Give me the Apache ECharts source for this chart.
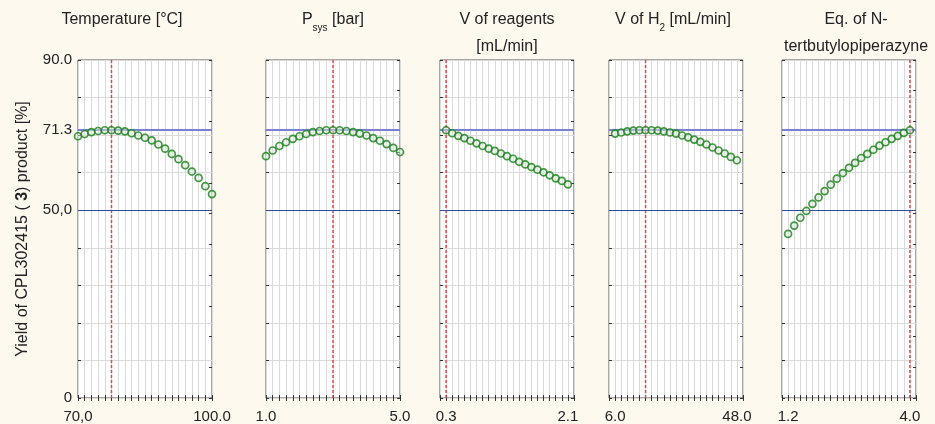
<!DOCTYPE html>
<html><head><meta charset="utf-8">
<script src="https://cdn.jsdelivr.net/npm/echarts@6/dist/echarts.min.js"></script>
<style>html,body{margin:0;padding:0;background:#fdf9ee}#c{width:935px;height:424px}</style>
</head><body><div id="c"></div>
<script>
// ---- data ----
const tempX = [70,71.5,73,74.5,76,77.5,79,80.5,82,83.5,85,86.5,88,89.5,91,92.5,94,95.5,97,98.5,100];
const tempY = [69.7,70.3,70.8,71.1,71.3,71.3,71.2,71.0,70.5,69.9,69.3,68.6,67.5,66.4,65.0,63.6,62.0,60.3,58.6,56.4,54.3];
const psysX = [1.0,1.2,1.4,1.6,1.8,2.0,2.2,2.4,2.6,2.8,3.0,3.2,3.4,3.6,3.8,4.0,4.2,4.4,4.6,4.8,5.0];
const psysY = [64.4,65.9,67.1,68.1,69.0,69.7,70.3,70.8,71.1,71.3,71.3,71.3,71.1,70.8,70.4,69.9,69.2,68.5,67.6,66.6,65.5];
const reagX = [0.3,0.39,0.48,0.57,0.66,0.75,0.84,0.93,1.02,1.11,1.2,1.29,1.38,1.47,1.56,1.65,1.74,1.83,1.92,2.01,2.1];
const reagY = [71.3,70.5,69.8,69.2,68.5,67.8,67.1,66.4,65.8,65.1,64.4,63.7,62.9,62.2,61.5,60.8,60.1,59.3,58.5,57.8,56.9];
const h2X = [6,8.1,10.2,12.3,14.4,16.5,18.6,20.7,22.8,24.9,27,29.1,31.2,33.3,35.4,37.5,39.6,41.7,43.8,45.9,48];
const h2Y = [70.4,70.7,71.0,71.2,71.3,71.3,71.3,71.2,71.0,70.7,70.4,69.9,69.4,68.8,68.2,67.5,66.7,65.9,65.1,64.2,63.3];
const eqX = [1.2,1.34,1.48,1.62,1.76,1.9,2.04,2.18,2.32,2.46,2.6,2.74,2.88,3.02,3.16,3.3,3.44,3.58,3.72,3.86,4.0];
const eqY = [43.7,45.9,48.0,49.8,51.7,53.4,55.1,56.8,58.4,59.9,61.3,62.6,63.9,65.0,66.1,67.2,68.1,69.0,69.8,70.6,71.3];

const panelTitles = ['Temperature [°C]', 'P{s|sys} [bar]', 'V of reagents\n[mL/min]', 'V of H{s|2} [mL/min]', 'Eq. of N-\ntertbutylopiperazyne'];
const xTickLabels = [['70,0','100.0'], ['1.0','5.0'], ['0.3','2.1'], ['6.0','48.0'], ['1.2','4.0']];
const optimumX = [77.5, 3.0, 0.3, 16.5, 4.0];
const yTickValues = [0, 50, 71.3, 90];
const yTickLabels = ['0', '50,0', '71.3', '90.0'];
const predictedYield = 71.3;
const referenceYield = 50;
const yTitle = 'Yield of CPL302415 ( {b|3}) product [%]';

// ---- layout ----
const xs = [tempX, psysX, reagX, h2X, eqX];
const ys = [tempY, psysY, reagY, h2Y, eqY];
const padded = [false, false, true, true, true];
const gridLeft = [78, 266, 440, 609, 782];
const gridW = 134, gridTop = 60, gridH = 338;
const titleCenter = [122, 333, 507, 673, 856];
const FONT = '"Liberation Sans", Arial, sans-serif';

const grids = [], xAxes = [], yAxes = [], series = [], titles = [];
for (let i = 0; i < 5; i++) {
  const X = xs[i], Y = ys[i];
  const step = +(X[1] - X[0]).toFixed(4);
  const mn = padded[i] ? +(X[0] - step).toFixed(4) : X[0];
  const mx = padded[i] ? +(X[X.length-1] + step).toFixed(4) : X[X.length-1];
  grids.push({left: gridLeft[i], top: gridTop, width: gridW, height: gridH, show: true,
    backgroundColor: '#ffffff', borderColor: '#555', borderWidth: 1, containLabel: false});
  const lbl = xTickLabels[i];
  xAxes.push({type: 'value', gridIndex: i, position: 'bottom', min: mn, max: mx, interval: step,
    axisLine: {show: false},
    axisTick: {show: true, inside: true, length: 3, lineStyle: {color: '#333'}},
    splitLine: {show: true, lineStyle: {color: '#dadada', width: 1}},
    axisLabel: {show: true, customValues: [X[0], X[X.length-1]], margin: 11,
      formatter: v => (Math.abs(v - X[0]) < 1e-6 ? lbl[0] : lbl[1]),
      color: '#222', fontSize: 15, fontFamily: FONT}
  });
  xAxes.push({type: 'value', gridIndex: i, position: 'top', min: mn, max: mx, interval: step,
    axisLine: {show: false}, axisLabel: {show: false}, splitLine: {show: false},
    axisTick: {show: true, inside: true, length: 3, lineStyle: {color: '#333'}}
  });
  const yLeft = {type: 'value', gridIndex: i, position: 'left', min: 0, max: 90, interval: 10,
    axisLine: {show: false},
    axisTick: {show: true, inside: true, length: 3, lineStyle: {color: '#333'}},
    splitLine: {show: true, lineStyle: {color: '#dadada', width: 1}},
    axisLabel: {show: i === 0, customValues: yTickValues, margin: 6,
      formatter: v => yTickLabels[yTickValues.findIndex(t => Math.abs(t - v) < 1e-6)],
      color: '#222', fontSize: 15, fontFamily: FONT}
  };
  if (i === 0) {
    Object.assign(yLeft, {name: yTitle, nameLocation: 'middle', nameRotate: 90, nameGap: 47,
      nameTextStyle: {color: '#222', fontSize: 16, fontFamily: FONT,
        rich: {b: {fontWeight: 'bold', fontSize: 16, fontFamily: FONT, color: '#222'}}}});
  }
  yAxes.push(yLeft);
  yAxes.push({type: 'value', gridIndex: i, position: 'right', min: 0, max: 11, interval: 1,
    axisLine: {show: false}, axisLabel: {show: false}, splitLine: {show: false},
    axisTick: {show: true, inside: true, length: 3, lineStyle: {color: '#333'}}
  });
  // predicted optimum setting (vertical dashed line)
  series.push({type: 'line', xAxisIndex: 2*i, yAxisIndex: 2*i, silent: true, z: 3,
    symbol: 'none', animation: false,
    data: [[optimumX[i], 0], [optimumX[i], 90]],
    lineStyle: {color: '#e04848', width: 1.5, type: [3, 2]}
  });
  series.push({type: 'scatter', xAxisIndex: 2*i, yAxisIndex: 2*i,
    data: X.map((x, k) => [x, Y[k]]),
    symbol: 'circle', symbolSize: 7,
    itemStyle: {color: 'rgba(225,235,225,0.6)', borderColor: '#178017', borderWidth: 1.7},
    silent: true, z: 5,
    markLine: {silent: true, symbol: 'none', animation: false, label: {show: false},
      data: [
        {yAxis: predictedYield, lineStyle: {color: '#7b80d2', width: 2, type: 'solid'}},
        {yAxis: referenceYield, lineStyle: {color: '#2f4f9e', width: 1, type: 'solid'}}
      ]}
  });
  titles.push({text: panelTitles[i], left: titleCenter[i], top: 6, textAlign: 'center', padding: 0,
    textStyle: {fontSize: 16, fontWeight: 'normal', color: '#222', fontFamily: FONT, lineHeight: 27,
      rich: {s: {fontSize: 10, verticalAlign: 'bottom', padding: [7, 0, 0, 0], lineHeight: 27, color: '#222', fontFamily: FONT}}}});
}

const chart = echarts.init(document.getElementById('c'), null, {renderer: 'canvas'});
chart.setOption({
  backgroundColor: '#fdf9ee',
  animation: false,
  title: titles,
  grid: grids,
  xAxis: xAxes,
  yAxis: yAxes,
  series: series
});
</script></body></html>
